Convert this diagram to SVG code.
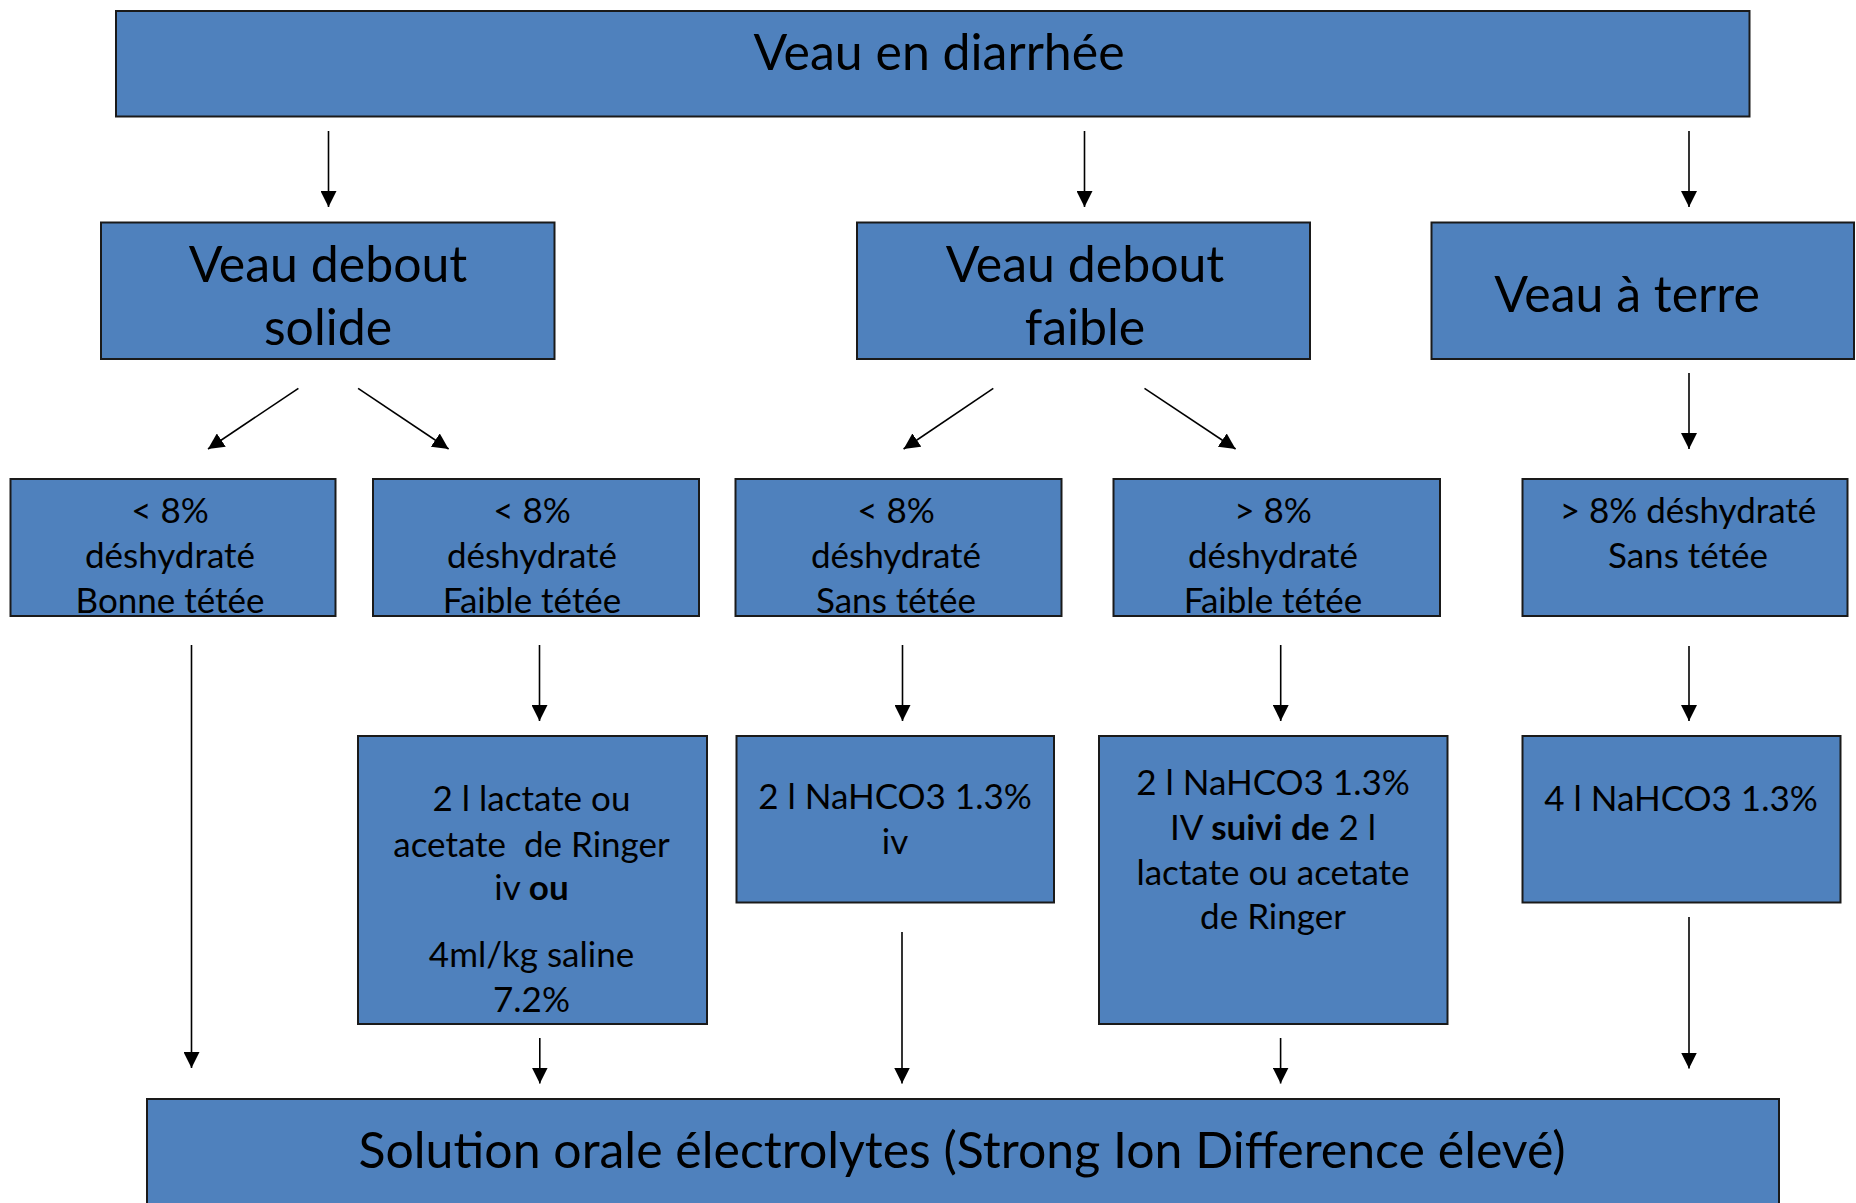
<svg xmlns="http://www.w3.org/2000/svg" width="1856" height="1203" viewBox="0 0 1856 1203">
<style>
.box{fill:#4f81bd;stroke:#1a1a1a;stroke-width:2}
.t{font-family:Lato,"Noto Sans","Liberation Sans",sans-serif;fill:#000;text-anchor:middle}
.big{font-size:50px}
.med{font-size:35px}
.b{font-weight:bold}
.c{stroke:#000;stroke-width:1.6;fill:none;marker-end:url(#ah)}
</style>
<defs>
<marker id="ah" markerUnits="userSpaceOnUse" markerWidth="16" markerHeight="16" refX="15" refY="7.5" orient="auto" viewBox="0 0 15 15">
<path d="M0,0 L15,7.5 L0,15 z" fill="#000"/>
</marker>
</defs>
<rect width="1856" height="1203" fill="#fff"/>
<g id="connectors">
<line class="c" x1="328.5" y1="131" x2="328.5" y2="207"/>
<line class="c" x1="1084.5" y1="131" x2="1084.5" y2="207"/>
<line class="c" x1="1689" y1="131" x2="1689" y2="207"/>
<line class="c" x1="298.4" y1="388.3" x2="208" y2="449"/>
<line class="c" x1="358.1" y1="388.3" x2="448.6" y2="449"/>
<line class="c" x1="993.3" y1="388.3" x2="903.6" y2="449"/>
<line class="c" x1="1144.5" y1="388.3" x2="1235.6" y2="449"/>
<line class="c" x1="1689" y1="373" x2="1689" y2="449"/>
<line class="c" x1="191.5" y1="645" x2="191.5" y2="1068"/>
<line class="c" x1="539.5" y1="645" x2="539.5" y2="721"/>
<line class="c" x1="902.5" y1="645" x2="902.5" y2="721"/>
<line class="c" x1="1280.7" y1="645" x2="1280.7" y2="721"/>
<line class="c" x1="1689" y1="646" x2="1689" y2="721"/>
<line class="c" x1="539.8" y1="1038" x2="539.8" y2="1083.5"/>
<line class="c" x1="902" y1="932" x2="902" y2="1083.5"/>
<line class="c" x1="1280.6" y1="1038" x2="1280.6" y2="1083.5"/>
<line class="c" x1="1689" y1="917" x2="1689" y2="1068.5"/>
</g>
<g id="n-top">
<rect class="box" x="116" y="11" width="1633.5" height="105.5"/>
<text class="t big" x="939" y="70">Veau en diarrhée</text>
</g>
<g id="n-solide">
<rect class="box" x="101" y="222.5" width="453.5" height="136.5"/>
<text class="t big" x="328" y="281.7">Veau debout</text>
<text class="t big" x="328" y="345">solide</text>
</g>
<g id="n-faible">
<rect class="box" x="857" y="222.5" width="453" height="136.5"/>
<text class="t big" x="1085" y="281.7">Veau debout</text>
<text class="t big" x="1085" y="345">faible</text>
</g>
<g id="n-terre">
<rect class="box" x="1431.5" y="222.5" width="422.5" height="136.5"/>
<text class="t big" x="1627" y="311.7">Veau à terre</text>
</g>
<g id="n-d1">
<rect class="box" x="10.5" y="479" width="325" height="137"/>
<text class="t med" x="170" y="522.7">&lt; 8%</text>
<text class="t med" x="170" y="568.3">déshydraté</text>
<text class="t med" x="170" y="613.3">Bonne tétée</text>
</g>
<g id="n-d2">
<rect class="box" x="373" y="479" width="326" height="137"/>
<text class="t med" x="532" y="522.7">&lt; 8%</text>
<text class="t med" x="532" y="568.3">déshydraté</text>
<text class="t med" x="532" y="613.3">Faible tétée</text>
</g>
<g id="n-d3">
<rect class="box" x="735.5" y="479" width="326" height="137"/>
<text class="t med" x="896" y="522.7">&lt; 8%</text>
<text class="t med" x="896" y="568.3">déshydraté</text>
<text class="t med" x="896" y="613.3">Sans tétée</text>
</g>
<g id="n-d4">
<rect class="box" x="1113.5" y="479" width="326.5" height="137"/>
<text class="t med" x="1273" y="522.7">&gt; 8%</text>
<text class="t med" x="1273" y="568.3">déshydraté</text>
<text class="t med" x="1273" y="613.3">Faible tétée</text>
</g>
<g id="n-d5">
<rect class="box" x="1522.5" y="479" width="325" height="137"/>
<text class="t med" x="1688" y="522.9">&gt; 8% déshydraté</text>
<text class="t med" x="1688" y="567.5">Sans tétée</text>
</g>
<g id="n-lactate">
<rect class="box" x="358" y="736" width="349" height="288"/>
<text class="t med" x="531.5" y="811">2 l lactate ou</text>
<text class="t med" x="531.5" y="856.7" style="white-space:pre">acetate  de Ringer</text>
<text class="t med" x="531.5" y="900">iv <tspan class="b">ou</tspan></text>
<text class="t med" x="531.5" y="966.7">4ml/kg saline</text>
<text class="t med" x="531.5" y="1012.3">7.2%</text>
</g>
<g id="n-nahco3-iv">
<rect class="box" x="736.5" y="736" width="317.5" height="166.5"/>
<text class="t med" x="895" y="809.3">2 l NaHCO3 1.3%</text>
<text class="t med" x="895" y="854">iv</text>
</g>
<g id="n-suivi">
<rect class="box" x="1099" y="736" width="348.5" height="288"/>
<text class="t med" x="1273" y="795">2 l NaHCO3 1.3%</text>
<text class="t med" x="1273" y="840">IV <tspan class="b">suivi de</tspan> 2 l</text>
<text class="t med" x="1273" y="885">lactate ou acetate</text>
<text class="t med" x="1273" y="929.3">de Ringer</text>
</g>
<g id="n-4l">
<rect class="box" x="1522.5" y="736" width="318" height="166.5"/>
<text class="t med" x="1681" y="811">4 l NaHCO3 1.3%</text>
</g>
<g id="n-oral">
<rect class="box" x="147" y="1099" width="1632" height="130"/>
<text class="t big" x="962" y="1168">Solution orale électrolytes (Strong Ion Difference élevé)</text>
</g>
</svg>
